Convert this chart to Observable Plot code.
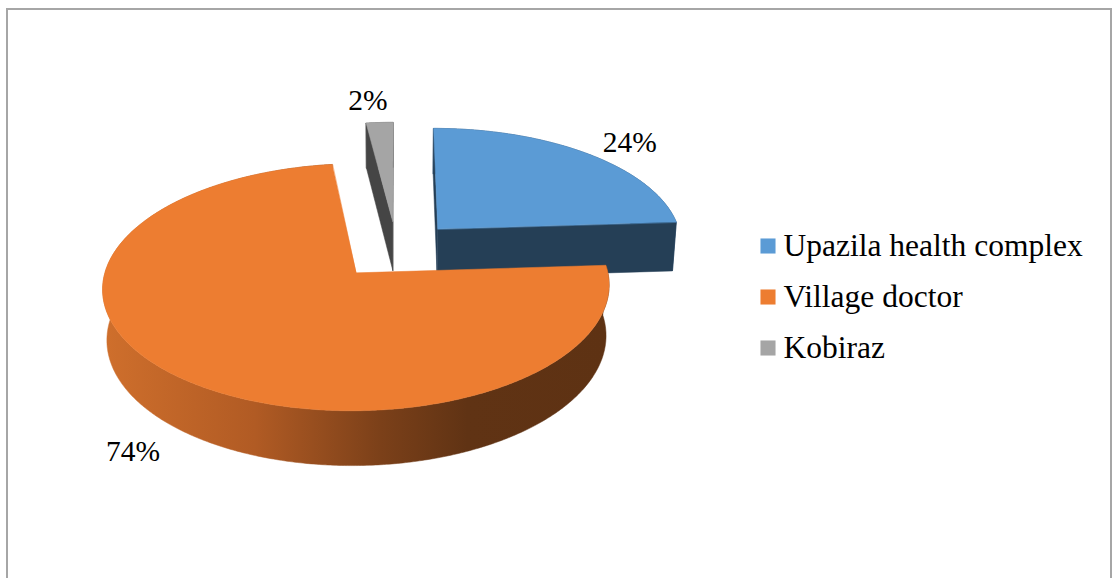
<!DOCTYPE html>
<html>
<head>
<meta charset="utf-8">
<script src="https://cdn.jsdelivr.net/npm/d3@7"></script>
<script src="https://cdn.jsdelivr.net/npm/@observablehq/plot@0.6"></script>
<style>
  body { margin: 0; background: #fff; }
  #wrap { position: relative; width: 1113px; height: 578px; overflow: hidden; }
  #frame { position: absolute; left: 6px; top: 8px; width: 1102px; height: 600px;
           border: 2px solid #a6a6a6; border-bottom: none; }
  #chart { position: absolute; left: 0; top: 0; }
</style>
</head>
<body>
<div id="wrap"><div id="frame"></div><div id="chart"></div></div>
<script>
// ---- data ----
const categories = ["Upazila health complex", "Village doctor", "Kobiraz"];
const percents = [24, 74, 2];
const percentLabels = ["24%", "74%", "2%"];

// ---- styles ----
const topColors = ["#5b9bd5", "#ed7d31", "#a5a5a5"];
const cutColors = ["#253f56", "#7a3f16", "#454545"];
const rimColors = ["#2e5173", "url(#orangeRim)", "#5a5a5a"];
const labelNudge = [[10, 5], [1, -7], [-9, -1]];
const W = 1113, H = 578;
const FONT = "'Liberation Serif', 'Times New Roman', serif";

// ---- 3D view (layout) ----
const view = {cx: 396, cy: 249.4, scale: 246, sinE: 0.474, dist: 7.75, depth: 0.233, explode: 0.25, labelR: 1.24};
const cosE = Math.sqrt(1 - view.sinE * view.sinE);
const F = view.scale * view.dist;
function project(X, Z, Y) {
  const v = Y * cosE + Z * view.sinE;
  const d = Z * cosE - Y * view.sinE;
  const k = F / (view.dist + d);
  return {x: view.cx + X * k, y: view.cy - v * k};
}

const arcs = d3.pie().sort(null).value(d => d)(percents);
const slices = arcs.map((a, i) => {
  const mid = (a.startAngle + a.endAngle) / 2;
  return {i, cat: categories[i], a0: a.startAngle, a1: a.endAngle, mid,
          ox: view.explode * Math.sin(mid), oz: view.explode * Math.cos(mid)};
});

function rimPt(s, th, Y, r = 1) {
  return project(s.ox + r * Math.sin(th), s.oz + r * Math.cos(th), Y);
}
function arcPts(s, Y, reverse) {
  const n = Math.max(4, Math.ceil((s.a1 - s.a0) / 0.01));
  const pts = [];
  for (let k = 0; k <= n; k++) {
    const t = s.a0 + (s.a1 - s.a0) * (reverse ? 1 - k / n : k / n);
    pts.push(rimPt(s, t, Y));
  }
  return pts;
}
function visible(s, th, sign) {
  const nX = sign * Math.cos(th), nZ = -sign * Math.sin(th);
  const camZ = -view.dist * cosE;
  const pX = s.ox + 0.5 * Math.sin(th), pZ = s.oz + 0.5 * Math.cos(th);
  return (0 - pX) * nX + (camZ - pZ) * nZ > 0;
}

const Hd = -view.depth;
const order = slices.slice().sort((p, q) => Math.cos(q.mid) - Math.cos(p.mid));
const marks = [];
let orangeExtent = [0, W];
for (const s of order) {
  const apexT = project(s.ox, s.oz, 0), apexB = project(s.ox, s.oz, Hd);
  const rim = [...arcPts(s, 0, false), ...arcPts(s, Hd, true)];
  if (s.i === 1) orangeExtent = d3.extent(rim, p => p.x);
  marks.push(Plot.line(rim, {x: "x", y: "y", fill: rimColors[s.i], stroke: rimColors[s.i], strokeWidth: 0.5, curve: "linear-closed"}));
  for (const [th, sign] of [[s.a0, -1], [s.a1, 1]]) {
    if (!visible(s, th, sign)) continue;
    const face = [apexT, rimPt(s, th, 0), rimPt(s, th, Hd), apexB];
    marks.push(Plot.line(face, {x: "x", y: "y", fill: cutColors[s.i], stroke: cutColors[s.i], strokeWidth: 0.5, curve: "linear-closed"}));
  }
  const top = [apexT, ...arcPts(s, 0, false)].map(p => ({...p, cat: s.cat}));
  marks.push(Plot.line(top, {x: "x", y: "y", fill: "cat", stroke: "cat", strokeWidth: 0.5, curve: "linear-closed"}));
}

// data labels
const labelData = slices.map(s => {
  const front = Math.cos(s.mid) < 0;
  const p = rimPt(s, s.mid, front ? Hd : 0, view.labelR);
  return {x: p.x + labelNudge[s.i][0], y: p.y + labelNudge[s.i][1], text: percentLabels[s.i]};
});
marks.push(Plot.text(labelData, {x: "x", y: "y", text: "text", fontSize: 29.5, fontFamily: FONT, fill: "#000"}));

// legend
const legend = {x: 767.5, textX: 783, y0: 245.5, step: 51};
marks.push(Plot.dot(categories, {x: () => legend.x, y: (d, i) => legend.y0 + i * legend.step, fill: d => d, symbol: "square", r: 8.5}));
marks.push(Plot.text(categories, {x: () => legend.textX, y: (d, i) => legend.y0 + i * legend.step, text: d => d, textAnchor: "start", fontSize: 31.5, fontFamily: FONT, fill: "#000"}));

const svg = Plot.plot({
  width: W, height: H, margin: 0,
  x: {type: "linear", domain: [0, W], range: [0, W], axis: null},
  y: {type: "linear", domain: [0, H], range: [0, H], axis: null},
  color: {domain: categories, range: topColors},
  style: {fontFamily: FONT, background: "transparent", overflow: "visible"},
  marks
});

const defs = d3.create("svg:defs");
const g = defs.append("linearGradient").attr("id", "orangeRim")
  .attr("gradientUnits", "userSpaceOnUse")
  .attr("x1", orangeExtent[0]).attr("x2", orangeExtent[1]).attr("y1", 0).attr("y2", 0);
[[0, "#cf6f2c"], [0.3, "#b15b24"], [0.55, "#7b4019"], [0.72, "#603314"], [1, "#5e3213"]]
  .forEach(([o, c]) => g.append("stop").attr("offset", o).attr("stop-color", c));
svg.insertBefore(defs.node(), svg.firstChild);

document.getElementById("chart").appendChild(svg);
</script>
</body>
</html>
